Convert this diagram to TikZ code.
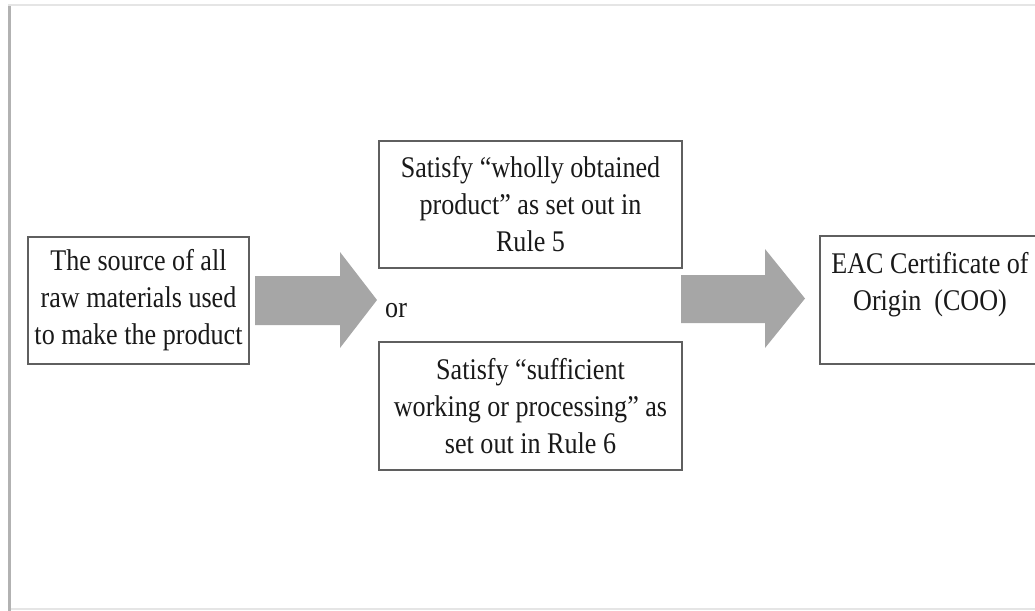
\documentclass[tikz,border=0pt]{standalone}
\usepackage{fontspec}
\setmainfont{Liberation Serif}[FakeStretch=0.87]
\usetikzlibrary{positioning}
\definecolor{boxgray}{RGB}{95,95,95}
\definecolor{arrowgray}{RGB}{166,166,166}
\definecolor{textgray}{RGB}{25,25,25}
\tikzset{
  rulebox/.style={draw=boxgray, line width=1.2pt, align=center, inner sep=0pt,
    font=\fontsize{30}{37}\selectfont, text=textgray},
  blockarrow/.style={fill=arrowgray, draw=none},
}

\begin{document}
\begin{tikzpicture}[x=1pt,y=-1pt]
\useasboundingbox (0,0) rectangle (1035,610);
\clip (0,0) rectangle (1035,610);
% page frame with its shadow
\fill[black!30] (8,6) rectangle (11,612);
\fill[black!10] (8,4.5) rectangle (1040,6.5);
\fill[black!10] (11,607.5) rectangle (1040,609.5);
% boxes
\node[rulebox, minimum width=221pt, minimum height=127pt] (src) at (138.5,300.5)
  {The source of all\\raw materials used\\to make the product};
\node[rulebox, minimum width=303pt, minimum height=127pt] (wholly) at (530.5,204.5)
  {Satisfy “wholly obtained\\product” as set out in\\Rule 5};
\node[rulebox, minimum width=303pt, minimum height=128pt] (suff) at (530.5,406)
  {Satisfy “sufficient\\working or processing” as\\set out in Rule 6};
\node[rulebox, minimum width=220pt, minimum height=128pt] (coo) at (930,300)
  {EAC Certificate of\\Origin~~(COO)\\\mbox{}};
\node[font=\fontsize{30}{37}\selectfont, text=textgray, anchor=base west, inner sep=0pt] (ortext) at (385,317) {or};
% block arrows
\fill[blockarrow] (255,276) -- (340,276) -- (340,252) -- (377,300) -- (340,348) -- (340,325) -- (255,325) -- cycle;
\fill[blockarrow] (681,275) -- (765,275) -- (765,249) -- (805,298.5) -- (765,348) -- (765,323) -- (681,323) -- cycle;
\end{tikzpicture}
\end{document}
